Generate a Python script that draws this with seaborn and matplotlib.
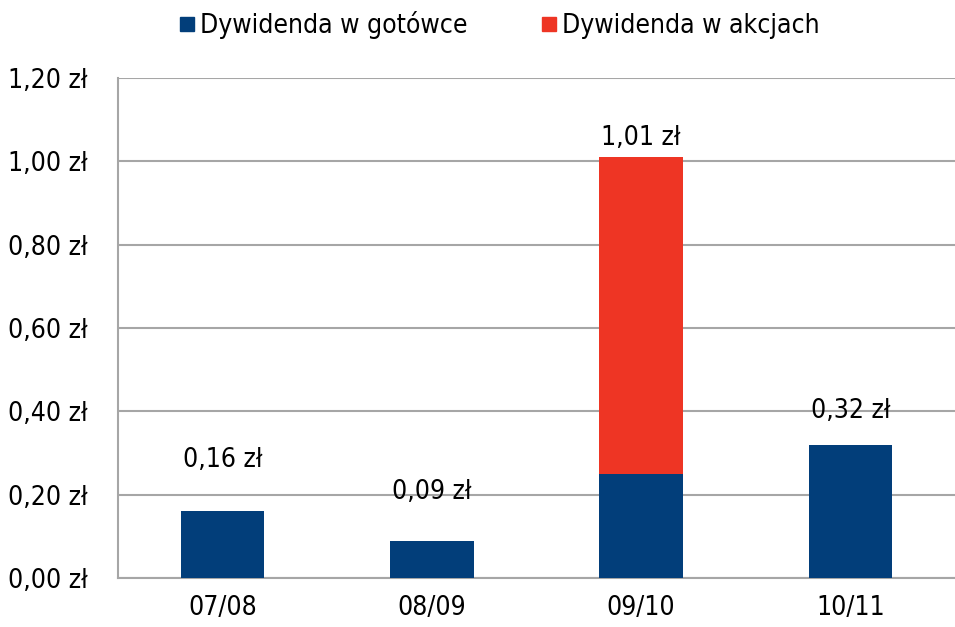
import matplotlib
matplotlib.use("Agg")
import matplotlib.pyplot as plt
import seaborn as sns
import pandas as pd
from matplotlib.lines import Line2D
from matplotlib.ticker import FixedLocator

categories = ["07/08", "08/09", "09/10", "10/11"]
cash = [0.16, 0.09, 0.25, 0.32]
shares = [0.0, 0.0, 0.76, 0.0]
totals = [0.16, 0.09, 1.01, 0.32]
total_labels = ["0,16 zł", "0,09 zł", "1,01 zł", "0,32 zł"]
yticks = [0.0, 0.2, 0.4, 0.6, 0.8, 1.0, 1.2]
ytick_labels = ["0,00 zł", "0,20 zł", "0,40 zł", "0,60 zł", "0,80 zł", "1,00 zł", "1,20 zł"]
series_names = ["Dywidenda w gotówce", "Dywidenda w akcjach"]

NAVY = "#023E7A"
RED = "#EE3524"
GRID = "#A6A6A6"

sns.set_theme(style="white")
plt.rcParams["font.family"] = ["DejaVu Sans"]
plt.rcParams["font.stretch"] = "condensed"
plt.rcParams["text.color"] = "black"
FS = 19

df = pd.DataFrame({"cat": categories, "cash": cash, "total": totals})

fig = plt.figure(figsize=(9.55, 6.27), dpi=100)
ax = fig.add_axes([118 / 955, 1 - 578 / 627, 1 - 118 / 955, 500 / 627])

sns.barplot(data=df, x="cat", y="total", color=RED, saturation=1, width=0.4, ax=ax,
            zorder=3, edgecolor="none")
sns.barplot(data=df, x="cat", y="cash", color=NAVY, saturation=1, width=0.4, ax=ax,
            zorder=4, edgecolor="none")

ax.set_ylim(0, 1.2)
ax.set_xlim(-0.5, 3.5)
ax.set_yticks(yticks)
ax.set_yticklabels(ytick_labels, fontsize=FS, fontstretch="condensed")
ax.set_xticks(range(len(categories)))
ax.set_xticklabels(categories, fontsize=FS, fontstretch="condensed")
ax.xaxis.set_minor_locator(FixedLocator([-0.5, 0.5, 1.5, 2.5, 3.5]))
ax.tick_params(axis="x", which="major", length=0, pad=12)
ax.tick_params(axis="x", which="minor", length=8, width=1.5, color=GRID, direction="out")
ax.tick_params(axis="y", length=8, width=1.5, color=GRID, direction="out", pad=14)
for lbl in ax.get_yticklabels() + ax.get_xticklabels():
    lbl.set_color("black")
ax.set_xlabel("")
ax.set_ylabel("")

ax.yaxis.grid(True, color=GRID, linewidth=1.5, zorder=0)
ax.set_axisbelow(True)
for s in ["top", "right"]:
    ax.spines[s].set_visible(False)
for s in ["left", "bottom"]:
    ax.spines[s].set_color(GRID)
    ax.spines[s].set_linewidth(1.5)

offsets = [37, 35, 14, 24]
for i, (t, lab) in enumerate(zip(totals, total_labels)):
    ax.annotate(lab, (i, t), xytext=(0, offsets[i]), textcoords="offset points",
                ha="center", va="center", fontsize=FS, fontstretch="condensed", color="black")

handles = [Line2D([0], [0], marker="s", linestyle="", markersize=10, color=NAVY),
           Line2D([0], [0], marker="s", linestyle="", markersize=10, color=RED)]
leg = fig.legend(handles, series_names, loc="center", bbox_to_anchor=(0.52, 1 - 25 / 627),
                 ncol=2, frameon=False, handletextpad=0.0, columnspacing=2.6,
                 handlelength=1.0, prop={"size": FS, "stretch": "condensed"})
for t in leg.get_texts():
    t.set_color("black")

fig.savefig("out.png", dpi=100)
